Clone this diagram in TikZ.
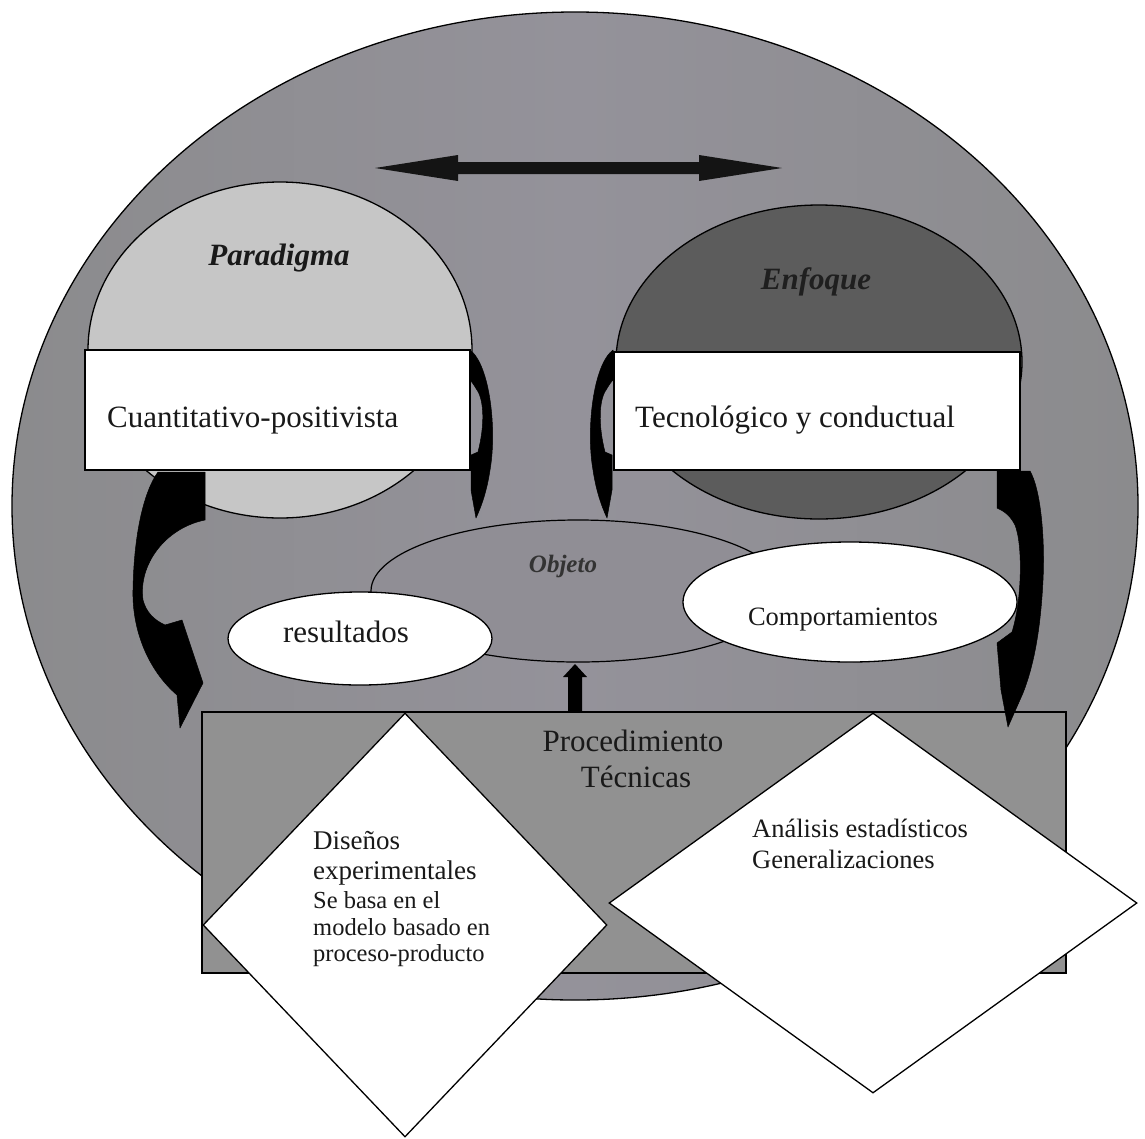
\documentclass[tikz,border=0pt]{standalone}
\usepackage{fontspec}
\setmainfont{Liberation Serif}
\usetikzlibrary{shapes.geometric}

\definecolor{outerfill}{HTML}{8B8B8D}
\definecolor{outermid}{HTML}{94929A}
\definecolor{paradigmfill}{HTML}{C6C6C6}
\definecolor{enfoquefill}{HTML}{5C5C5C}
\definecolor{objetofill}{HTML}{908E95}
\definecolor{procfill}{HTML}{919191}

\begin{document}
\begin{tikzpicture}[x=1pt,y=-1pt,
  outline/.style={draw=black, line width=1.3pt},
  oval/.style={ellipse, outline, inner sep=0pt},
  panel/.style={rectangle, outline, inner sep=0pt},
  rhomb/.style={diamond, outline, fill=white, inner sep=0pt},
  blockarrow/.style={fill=black, draw=black, line width=0.5pt, line join=round},
  txt/.style={inner sep=0pt, anchor=base, text=black!90},
  big/.style={font=\fontsize{31}{36}\selectfont},
  mid/.style={font=\fontsize{27}{31}\selectfont},
  small/.style={font=\fontsize{24.5}{28}\selectfont},
  title/.style={font=\bfseries\itshape\fontsize{31}{36}\selectfont}
]
\useasboundingbox (0,0) rectangle (1145,1138);
\fill[white] (0,0) rectangle (1145,1138);

% outer frame
\node[oval, left color=outerfill, right color=outerfill, middle color=outermid,
      minimum width=1126pt, minimum height=988pt] (frame) at (575,506) {};

% paradigm and approach ovals
\node[oval, fill=paradigmfill, minimum width=384pt, minimum height=336pt] (paradigma) at (280,350) {};
\node[oval, fill=enfoquefill, minimum width=406pt, minimum height=314pt] (enfoque) at (819,362) {};

% two-headed arrow between both ovals
\fill[black!92] (375,168) -- (458,155) -- (458,162) -- (699,162) -- (699,155)
  -- (782,168) -- (699,181) -- (699,174) -- (458,174) -- (458,181) -- cycle;

% white label panels
\node[panel, fill=white, minimum width=385pt, minimum height=120pt] (cuantBox) at (277.5,410) {};
\node[panel, fill=white, minimum width=406pt, minimum height=118pt] (tecnoBox) at (817,411) {};

% object oval and its two white satellites
\node[ellipse, draw=black, line width=1.2pt, fill=objetofill, inner sep=0pt,
      minimum width=414pt, minimum height=142pt] (objeto) at (578,591) {};
\node[oval, fill=white, minimum width=264pt, minimum height=93pt] (resultados) at (360,638.5) {};
\node[oval, fill=white, minimum width=334pt, minimum height=120pt] (comport) at (850,602) {};

% procedure panel and the two diamonds
\node[panel, fill=procfill, minimum width=864pt, minimum height=261pt] (proc) at (634,842.5) {};
\node[rhomb, minimum width=404pt, minimum height=424pt] (disenos) at (405,925) {};
\node[rhomb, minimum width=528pt, minimum height=380pt] (analisis) at (873,903) {};

% curved block arrows
\path[blockarrow] (158,472) -- (205,472) -- (205,520)
  .. controls (165,528) and (138,565) .. (143,600)
  .. controls (146,612) and (154,620) .. (165,625)
  -- (182,620) -- (203,683) -- (180,728) -- (177,695)
  .. controls (148,670) and (132,630) .. (133,590)
  .. controls (134,530) and (145,490) .. (158,472) -- cycle;
\path[blockarrow] (997,471) -- (1030,471)
  .. controls (1041,490) and (1045,540) .. (1043,580)
  .. controls (1041,620) and (1036,660) .. (1023,693)
  -- (1008,727) -- (1001,690) -- (997,643) -- (1012,632)
  .. controls (1022,600) and (1023,545) .. (1015,525)
  .. controls (1009,513) and (1001,510) .. (997,508) -- cycle;
\path[blockarrow] (470,350) .. controls (490,365) and (497,430) .. (490,470)
  .. controls (487,490) and (482,505) .. (476,518) -- (471,490) -- (471,455) -- (478,452)
  .. controls (485,425) and (484,400) .. (477,390)
  .. controls (474,385) and (472,382) .. (470,380) -- cycle;
\path[blockarrow] (613,350) .. controls (593,365) and (586,430) .. (593,470)
  .. controls (596,490) and (601,505) .. (607,518) -- (612,490) -- (612,455) -- (605,452)
  .. controls (598,425) and (599,400) .. (606,390)
  .. controls (609,385) and (611,382) .. (613,380) -- cycle;

% short arrow from the procedure panel up to the object
\coordinate (upFoot) at (575,712);
\coordinate (upTip) at (575,664);
\fill[black] (upFoot) ++(-7,0) -- ++(0,-35) -- ++(-5,0) -- (upTip) -- ++(12,13)
  -- ++(-5,0) -- ++(0,35) -- cycle;

% texts
\node[txt, title] (paradigmaT) at (279,265) {Paradigma};
\node[txt, title, text=black!88] (enfoqueT) at (816,289) {Enfoque};
\node[txt, big, anchor=base west] (cuantT) at (107,427) {Cuantitativo-positivista};
\node[txt, big, anchor=base west] (tecnoT) at (635,427) {Tecnológico y conductual};
\node[txt, font=\bfseries\itshape\fontsize{25}{29}\selectfont, text=black!80] (objetoT) at (563,572) {Objeto};
\node[txt, big] (resultadosT) at (346,642) {resultados};
\node[txt, font=\fontsize{26.5}{30}\selectfont] (comportT) at (843,625) {Comportamientos};
\node[txt, big] (procT) at (633,751) {Procedimiento};
\node[txt, big] (tecT) at (636,787) {Técnicas};
\node[txt, mid, anchor=base west] (d1) at (313,849) {Diseños};
\node[txt, mid, anchor=base west] (d2) at (313,879) {experimentales};
\node[txt, small, anchor=base west] (d3) at (313,908) {Se basa en el};
\node[txt, small, anchor=base west] (d4) at (313,935) {modelo basado en};
\node[txt, small, anchor=base west] (d5) at (313,961) {proceso-producto};
\node[txt, font=\fontsize{26.5}{30}\selectfont, anchor=base west] (a1) at (752,837) {Análisis estadísticos};
\node[txt, font=\fontsize{26.5}{30}\selectfont, anchor=base west] (a2) at (752,868) {Generalizaciones};
\end{tikzpicture}
\end{document}
